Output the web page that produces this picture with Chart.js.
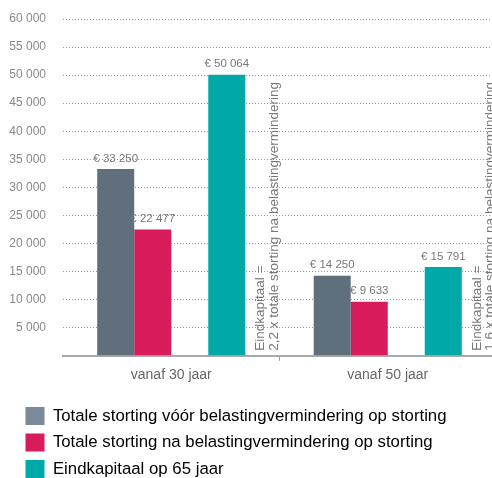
<!DOCTYPE html>
<html>
<head>
<meta charset="utf-8">
<script src="https://cdn.jsdelivr.net/npm/chart.js@4"></script>
<style>
  html, body { margin: 0; padding: 0; background: #fff; overflow: hidden; }
  #wrap { width: 496px; height: 488px; }
</style>
</head>
<body>
<div id="wrap"><canvas id="chart"></canvas></div>
<script>
/* ── data ── */
const CATEGORIES = ["vanaf 30 jaar", "vanaf 50 jaar"];
const VOOR_BELASTING = [33250, 14250];
const NA_BELASTING   = [22477, 9633];
const EINDKAPITAAL   = [50064, 15791];
const SERIES_LABELS = [
  "Totale storting vóór belastingvermindering op storting",
  "Totale storting na belastingvermindering op storting",
  "Eindkapitaal op 65 jaar",
];
const ANNOTATIONS = [
  ["Eindkapitaal =", "2,2 x totale storting na belastingvermindering"],
  ["Eindkapitaal =", "1,6 x totale storting na belastingvermindering"],
];
const Y_MAX  = 60000;
const Y_STEP = 5000;

/* ── palette ── */
const GRAY   = "#5f6f7b";
const PINK   = "#d81b5b";
const TEAL   = "#00a8a8";
const LEGEND_GRAY = "#7a8a99";
const FONT = "'Liberation Sans', Arial, sans-serif";

Chart.defaults.font.family = FONT;
Chart.defaults.color = "#777";

/* ── helpers ── */
function fmtSpace(v) {
  return String(v).replace(/\B(?=(\d{3})+(?!\d))/g, " ");
}

/* ── value labels above bars ── */
const valueLabels = {
  id: "valueLabels",
  afterDatasetsDraw(chart) {
    const ctx = chart.ctx;
    ctx.save();
    ctx.font = "11.5px " + FONT;
    ctx.fillStyle = "#777";
    ctx.textAlign = "center";
    ctx.textBaseline = "bottom";
    chart.data.datasets.forEach((ds, di) => {
      if (ds.spacer) return;
      chart.getDatasetMeta(di).data.forEach((bar, i) => {
        ctx.fillText("€ " + fmtSpace(ds.data[i]), bar.x, bar.y - 5);
      });
    });
    ctx.restore();
  },
};

/* ── vertical notes next to the Eindkapitaal bars ── */
const sideNotes = {
  id: "sideNotes",
  afterDatasetsDraw(chart) {
    const ctx = chart.ctx;
    const tealIdx = chart.data.datasets.findIndex(d => d.label === SERIES_LABELS[2]);
    const meta = chart.getDatasetMeta(tealIdx);
    const bottom = chart.chartArea.bottom;
    ctx.save();
    ctx.font = "13.5px " + FONT;
    ctx.fillStyle = "#777";
    ctx.textAlign = "left";
    ctx.textBaseline = "middle";
    meta.data.forEach((bar, i) => {
      const x = bar.x + bar.width / 2 + 15;
      ctx.save();
      ctx.translate(x, bottom - 5);
      ctx.rotate(-Math.PI / 2);
      ANNOTATIONS[i].forEach((line, li) => ctx.fillText(line, 0, li * 13.5));
      ctx.restore();
    });
    ctx.restore();
  },
};

/* ── indent the legend to line up under the axis labels ── */
const legendIndent = {
  id: "legendIndent",
  afterLayout(chart) {
    if (chart.legend) chart.legend.left += 17;
  },
};

/* ── chart ── */
const ctx = document.getElementById("chart").getContext("2d");
new Chart(ctx, {
  type: "bar",
  data: {
    labels: CATEGORIES,
    datasets: [
      { label: SERIES_LABELS[0], data: VOOR_BELASTING, backgroundColor: GRAY, legendColor: LEGEND_GRAY },
      { label: SERIES_LABELS[1], data: NA_BELASTING,   backgroundColor: PINK, legendColor: PINK },
      { label: "", data: [null, null], spacer: true },
      { label: SERIES_LABELS[2], data: EINDKAPITAAL,   backgroundColor: TEAL, legendColor: TEAL },
    ],
  },
  options: {
    responsive: true,
    maintainAspectRatio: false,
    animation: false,
    layout: { padding: { top: 19, left: 0, right: 0, bottom: 0 } },
    datasets: { bar: { barPercentage: 1, categoryPercentage: 0.684 } },
    plugins: {
      tooltip: { enabled: false },
      legend: {
        position: "bottom",
        align: "start",
        labels: {
          boxWidth: 19,
          boxHeight: 18,
          padding: 8.5,
          color: "#666",
          font: { size: 16.8 },
          filter: item => item.text !== "",
          generateLabels: chart => chart.data.datasets.map((ds, i) => ({
            text: ds.label,
            fillStyle: ds.legendColor,
            strokeStyle: ds.legendColor,
            lineWidth: 0,
            datasetIndex: i,
          })),
        },
      },
    },
    scales: {
      x: {
        afterFit: s => { s.height += 9; },
        border: { display: true, color: "#aaa", width: 2 },
        grid: {
          drawOnChartArea: false,
          drawTicks: true,
          tickLength: 5,
          color: c => (c.index === 1 ? "#999" : "rgba(0,0,0,0)"),
        },
        ticks: { color: "#666", font: { size: 14 }, padding: 6 },
      },
      y: {
        min: 0,
        max: Y_MAX,
        afterFit: s => { s.width = 63; s.paddingTop = 0; s.paddingBottom = 0; },
        border: { display: false, dash: [1, 2] },
        grid: { color: "#999", drawTicks: false },
        ticks: {
          stepSize: Y_STEP,
          padding: 17,
          color: "#888",
          font: { size: 12 },
          callback: v => (v === 0 ? "" : fmtSpace(v)),
        },
      },
    },
  },
  plugins: [valueLabels, sideNotes, legendIndent],
});
</script>
</body>
</html>
